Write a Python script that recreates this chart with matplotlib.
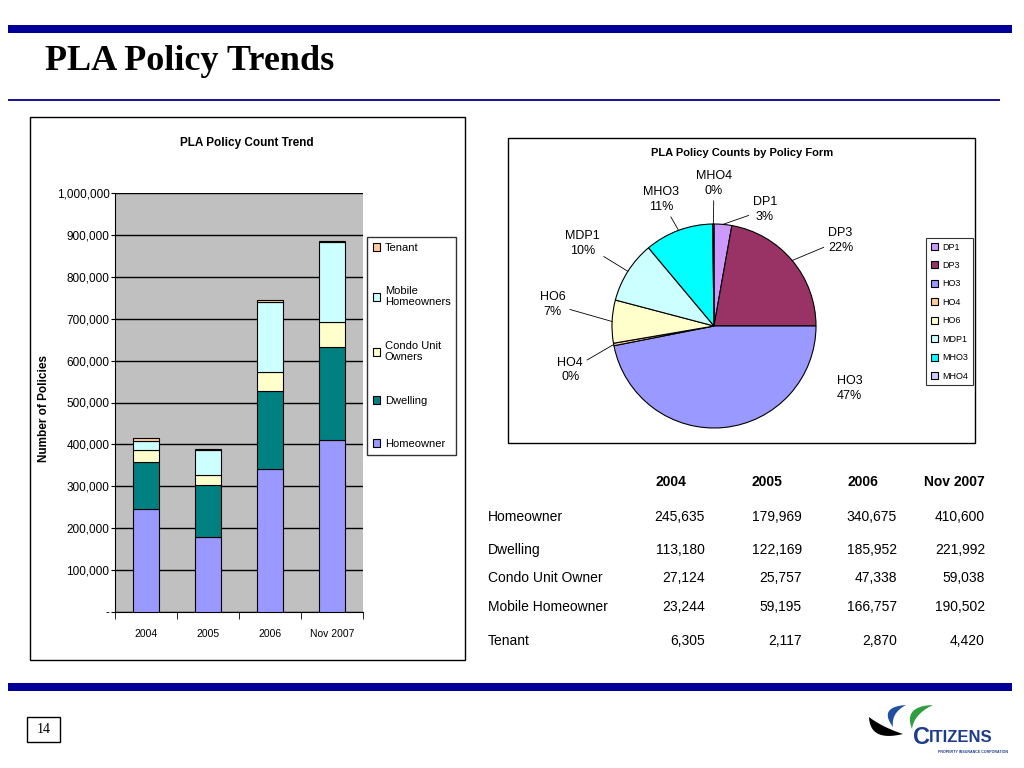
import matplotlib
matplotlib.use("Agg")
import math
import numpy as np
import matplotlib.pyplot as plt
from matplotlib.patches import Rectangle, Polygon
from matplotlib.ticker import FuncFormatter, FixedLocator

# ---- data ----
years = ["2004", "2005", "2006", "Nov 2007"]
homeowner = [245635, 179969, 340675, 410600]
dwelling = [113180, 122169, 185952, 221992]
condo = [27124, 25757, 47338, 59038]
mobile = [23244, 59195, 166757, 190502]
tenant = [6305, 2117, 2870, 4420]

table_rows = ["Homeowner", "Dwelling", "Condo Unit Owner", "Mobile Homeowner", "Tenant"]

pie_forms = ["DP1", "DP3", "HO3", "HO4", "HO6", "MDP1", "MHO3", "MHO4"]
pie_share = [2.8, 22.2, 46.9, 0.4, 6.8, 9.8, 10.9, 0.2]

SANS = ["Liberation Sans", "DejaVu Sans"]
SERIF = ["Liberation Serif", "DejaVu Serif"]

W, H = 1024, 768
fig = plt.figure(figsize=(W / 100, H / 100), dpi=100)


def fx(x):
    return x / W


def fy(y):
    return 1 - y / H


def box(x0, y0, x1, y1, **kw):
    fig.patches.append(Rectangle((fx(x0), fy(y1)), fx(x1) - fx(x0), fy(y0) - fy(y1),
                                 transform=fig.transFigure, **kw))


# ---- slide decorations ----
navy = "#000099"
box(8, 25, 1012, 33, facecolor=navy, edgecolor="none")
box(8, 99, 1000, 101, facecolor="#1a1a99", edgecolor="none")
box(8, 683, 1012, 691, facecolor=navy, edgecolor="none")
fig.text(fx(45), fy(61), "PLA Policy Trends", family=SERIF, weight="bold",
         fontsize=26, va="center", ha="left")

box(27, 717, 60, 742, facecolor="white", edgecolor="black", lw=1)
fig.text(fx(43.5), fy(729.5), "14", family=SERIF, fontsize=10, ha="center", va="center")

# ---- bar chart ----
box(30, 117, 465, 660, facecolor="none", edgecolor="black", lw=1)
fig.text(fx(247), fy(143), "PLA Policy Count Trend", family=SANS, weight="bold",
         fontsize=8.5, ha="center", va="center")
fig.text(fx(44), fy(408), "Number of Policies", family=SANS, weight="bold",
         fontsize=8.5, rotation=90, ha="center", va="center")

ax = fig.add_axes([fx(115), fy(612), fx(363) - fx(115), fy(193) - fy(612)])
ax.set_facecolor("#c0c0c0")
x = range(len(years))
series = [
    ("Homeowner", homeowner, "#9999ff"),
    ("Dwelling", dwelling, "#008080"),
    ("Condo Unit\nOwners", condo, "#ffffcc"),
    ("Mobile\nHomeowners", mobile, "#ccffff"),
    ("Tenant", tenant, "#ffcc99"),
]
bottom = [0] * len(years)
handles = []
for name, vals, col in series:
    b = ax.bar(x, vals, bottom=bottom, width=0.42, color=col, edgecolor="black", lw=0.8,
               label=name, zorder=3)
    handles.append(b)
    bottom = [a + v for a, v in zip(bottom, vals)]

ax.set_xlim(-0.5, 3.5)
ax.set_ylim(0, 1000000)
ax.set_yticks(range(0, 1000001, 100000))
ax.yaxis.set_major_formatter(FuncFormatter(lambda v, p: "-" if v == 0 else f"{v:,.0f}"))
ax.yaxis.grid(True, color="black", lw=1)
ax.set_axisbelow(True)
ax.set_xticks(list(x))
ax.set_xticklabels(years)
ax.xaxis.set_minor_locator(FixedLocator([-0.5, 0.5, 1.5, 2.5, 3.5]))
ax.tick_params(axis="x", which="major", length=0, pad=12)
ax.tick_params(axis="x", which="minor", length=5, direction="out")
ax.tick_params(axis="y", length=3, direction="out", pad=1)
for lab in ax.get_xticklabels():
    lab.set_family(SANS)
    lab.set_fontsize(7.5)
for lab in ax.get_yticklabels():
    lab.set_family(SANS)
    lab.set_fontsize(8.5)
for s in ["top", "right"]:
    ax.spines[s].set_visible(False)

leg = fig.legend(handles[::-1], [s[0] for s in series][::-1], loc="upper left",
                 bbox_to_anchor=(fx(367), fy(237)), bbox_transform=fig.transFigure,
                 prop={"family": SANS, "size": 8}, frameon=True, fancybox=False,
                 edgecolor="black", handlelength=0.7, handleheight=0.7,
                 handletextpad=0.4, labelspacing=3.0, borderpad=0.5, borderaxespad=0)
leg.get_frame().set_linewidth(1)

# ---- pie chart ----
box(508, 138, 975, 443, facecolor="none", edgecolor="black", lw=1)
fig.text(fx(742), fy(153), "PLA Policy Counts by Policy Form", family=SANS,
         weight="bold", fontsize=8, ha="center", va="center")

pax = fig.add_axes([fx(510), fy(530), fx(918) - fx(510), fy(122) - fy(530)])
pie_colors = ["#cc99ff", "#993366", "#9999ff", "#ffcc99", "#ffffcc", "#ccffff",
              "#00ffff", "#ccccff"]
wedges, _ = pax.pie(pie_share, colors=pie_colors, startangle=90, counterclock=False,
                    radius=1, wedgeprops=dict(edgecolor="black", lw=0.8))
pax.set_xlim(-2, 2)
pax.set_ylim(-2, 2)
pax.axis("off")

# label positions (radius units)
label_pos = {"DP1": (0.50, 1.14), "DP3": (1.24, 0.84), "HO3": (1.33, -0.61),
             "HO4": (-1.41, -0.43), "HO6": (-1.58, 0.21), "MDP1": (-1.29, 0.81),
             "MHO3": (-0.52, 1.24), "MHO4": (0.0, 1.40)}
total = sum(pie_share)
cum = 0
for name, v in zip(pie_forms, pie_share):
    mid = (cum + v / 2) / total
    cum += v
    ang = math.radians(90 - 360 * mid)
    edge = (math.cos(ang), math.sin(ang))
    txt = f"{name}\n{round(v / total * 100):.0f}%"
    arrow = None if name == "HO3" else dict(arrowstyle="-", color="black", lw=0.6,
                                           shrinkA=1, shrinkB=0)
    pax.annotate(txt, xy=edge, xytext=label_pos[name], ha="center", va="center",
                 family=SANS, fontsize=9, linespacing=1.3, arrowprops=arrow)

pleg = fig.legend(wedges, pie_forms, loc="upper left", bbox_to_anchor=(fx(926), fy(238)),
                  bbox_transform=fig.transFigure, prop={"family": SANS, "size": 6.5},
                  frameon=True, fancybox=False, edgecolor="black", handlelength=0.8,
                  handleheight=0.8, handletextpad=0.5, labelspacing=1.05, borderpad=0.5,
                  borderaxespad=0)
pleg.get_frame().set_linewidth(0.8)

# ---- table ----
head_right = [686, 782, 878, 985]
num_right = [705, 802, 897, 985]
row_y = [517, 550, 578, 607, 641]
for hx, yr in zip(head_right, years):
    fig.text(fx(hx), fy(482), yr, family=SANS, weight="bold", fontsize=10,
             ha="right", va="center")
table_vals = [homeowner, dwelling, condo, mobile, tenant]
for ry, name, vals in zip(row_y, table_rows, table_vals):
    fig.text(fx(488), fy(ry), name, family=SANS, fontsize=10, ha="left", va="center")
    for nx, v in zip(num_right, vals):
        fig.text(fx(nx), fy(ry), f"{v:,}", family=SANS, fontsize=10, ha="right",
                 va="center")

# ---- logo (rough) ----
lax = fig.add_axes([fx(860), fy(762), fx(1020) - fx(860), fy(698) - fy(762)])
lax.set_xlim(860, 1020)
lax.set_ylim(762, 698)
lax.axis("off")


def swoosh(p0, p2, c_out, c_in, color):
    t = np.linspace(0, 1, 30)[:, None]
    p0, p2, c_out, c_in = map(np.array, (p0, p2, c_out, c_in))
    outer = (1 - t) ** 2 * p0 + 2 * (1 - t) * t * c_out + t ** 2 * p2
    inner = (1 - t) ** 2 * p0 + 2 * (1 - t) * t * c_in + t ** 2 * p2
    lax.add_patch(Polygon(np.vstack([outer, inner[::-1]]), closed=True,
                          facecolor=color, edgecolor="none"))


swoosh((869, 717), (903, 734), (870, 742), (882, 727), "black")
swoosh((906, 705), (893, 727), (878, 707), (891, 713), "#1f4fa0")
swoosh((933, 705), (912, 729), (903, 706), (914, 714), "#2e9e3e")
lax.text(913, 737, "C", family=SANS, weight="bold", fontsize=17, color="#1f3c8c",
         ha="left", va="center")
lax.text(929, 738, "ITIZENS", family=SANS, weight="bold", fontsize=12, color="#1f3c8c",
         ha="left", va="center")
lax.text(1008, 752, "PROPERTY INSURANCE CORPORATION", family=SANS, weight="bold",
         fontsize=2.6, color="#1f3c8c", ha="right", va="center")

fig.savefig("out.png", dpi=100)
